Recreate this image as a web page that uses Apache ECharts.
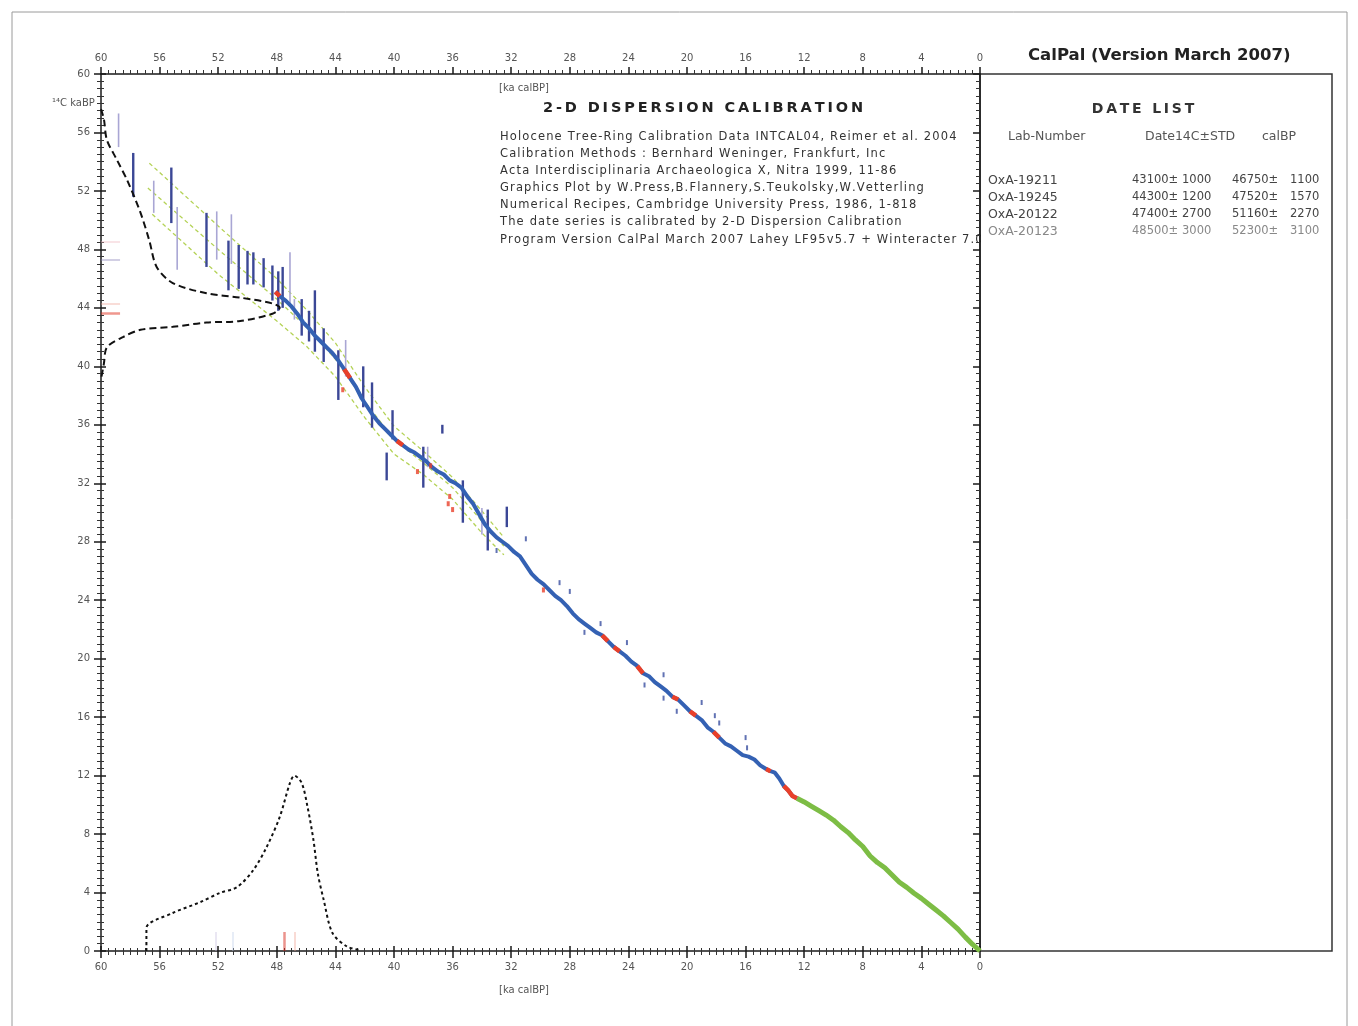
<!DOCTYPE html>
<html>
<head>
<meta charset="utf-8">
<title>CalPal 2-D Dispersion Calibration</title>
<script src="https://cdn.jsdelivr.net/npm/echarts@6/dist/echarts.min.js"></script>
<style>
  html, body { margin: 0; padding: 0; background: #fff; }
  #chart { width: 1358px; height: 1026px; }
</style>
</head>
<body>
<div id="chart"></div>
<script>
// calibration curve, [ka calBP, 14C ka BP]
const holoceneCurve = [
  [0, 0], [0.5, 0.45], [1, 0.95], [1.5, 1.5], [2, 1.95], [2.5, 2.4], [3, 2.8], [3.5, 3.2],
  [4, 3.6], [4.5, 3.95], [5, 4.35], [5.5, 4.7], [6, 5.2], [6.5, 5.7], [7, 6.05], [7.5, 6.5],
  [8, 7.15], [8.5, 7.6], [9, 8.1], [9.5, 8.5], [10, 8.95], [10.5, 9.3], [11, 9.6], [11.5, 9.9],
  [12, 10.2], [12.5, 10.45]
]
const glacialCurve = [
  [12.5, 10.45], [12.8, 10.6], [13.1, 11.0], [13.4, 11.3], [13.7, 11.8], [14.0, 12.2], [14.3, 12.3],
  [14.6, 12.45], [15.0, 12.7], [15.4, 13.1], [15.8, 13.3], [16.2, 13.4], [16.6, 13.7], [17.0, 14.0],
  [17.4, 14.2], [17.8, 14.6], [18.2, 15.0], [18.6, 15.3], [19.0, 15.8], [19.4, 16.1], [19.8, 16.4],
  [20.2, 16.8], [20.6, 17.2], [21.0, 17.4], [21.4, 17.8], [21.8, 18.1], [22.2, 18.4], [22.6, 18.8],
  [23.0, 19.0], [23.4, 19.5], [23.8, 19.8], [24.2, 20.2], [24.6, 20.5], [25.0, 20.8], [25.4, 21.2],
  [25.8, 21.6], [26.2, 21.8], [26.6, 22.1], [27.0, 22.4], [27.4, 22.7], [27.8, 23.1], [28.2, 23.6],
  [28.6, 24.0], [29.0, 24.3], [29.4, 24.7], [29.8, 25.1], [30.2, 25.4], [30.6, 25.8], [31.0, 26.4],
  [31.4, 27.0], [31.8, 27.3], [32.2, 27.7], [32.6, 28.0], [33.0, 28.3], [33.4, 28.7], [33.8, 29.2],
  [34.2, 29.9], [34.6, 30.6], [35.0, 31.1], [35.4, 31.7], [35.8, 32.0], [36.2, 32.2], [36.6, 32.6],
  [37.0, 32.8], [37.4, 33.1], [37.8, 33.5], [38.2, 33.8], [38.6, 34.1], [39.0, 34.3], [39.4, 34.6],
  [39.8, 34.9], [40.2, 35.3], [40.6, 35.7], [41.0, 36.1], [41.4, 36.6], [41.8, 37.2], [42.2, 37.8],
  [42.6, 38.6], [43.0, 39.2], [43.4, 39.8], [43.8, 40.4], [44.2, 40.9], [44.6, 41.3], [45.0, 41.7],
  [45.4, 42.1], [45.8, 42.6], [46.2, 43.0], [46.6, 43.6], [47.0, 44.1], [47.4, 44.5], [47.8, 44.8],
  [48.1, 45.1]
]
// cal ranges where the curve is drawn red
const redRanges = [
  [12.5, 13.5], [14.2, 14.7], [17.7, 18.3], [19.3, 19.9], [20.5, 21.1], [22.9, 23.5], [24.4, 25.0],
  [25.3, 25.9], [29.9, 30.4], [35.9, 36.3], [39.3, 39.9], [43.0, 43.5], [47.7, 48.1]
]
// single measurements [cal, 14C-lo, 14C-hi]
const darkBars = [
  [57.8, 51.6, 54.6], [55.2, 49.8, 53.6], [52.8, 46.8, 50.5], [51.3, 45.2, 48.6], [50.6, 45.3, 48.3],
  [50.0, 45.6, 47.9], [49.6, 45.6, 47.8], [48.9, 45.4, 47.4], [48.3, 44.5, 46.9], [47.9, 43.8, 46.5],
  [47.6, 44.0, 46.8], [45.4, 41.0, 45.2], [45.8, 41.7, 43.8], [43.8, 37.7, 41.1], [42.1, 37.2, 40.0],
  [41.5, 35.8, 38.9], [40.1, 35.0, 37.0], [40.5, 32.2, 34.1], [38.0, 31.7, 34.5], [35.3, 29.3, 32.2],
  [33.6, 27.4, 30.2], [32.3, 29.0, 30.4], [36.7, 35.4, 36.0], [44.8, 40.3, 42.6], [46.3, 42.1, 44.6]
]
const lightBars = [
  [58.8, 55.0, 57.3], [56.4, 50.5, 52.7], [54.8, 46.6, 50.9], [52.1, 47.3, 50.6], [51.1, 47.0, 50.4],
  [47.1, 44.3, 47.8], [46.8, 43.2, 44.6], [43.3, 39.3, 41.8], [37.7, 33.1, 34.5], [34.0, 28.5, 30.3]
]
const blueDots = [
  [28.7, 25.2], [28.0, 24.6], [25.9, 22.4], [24.1, 21.1], [21.6, 18.9], [21.6, 17.3], [20.7, 16.4],
  [19.0, 17.0], [18.1, 16.1], [17.8, 15.6], [16.0, 14.6], [15.9, 13.9], [33.0, 27.4], [31.0, 28.2],
  [27.0, 21.8], [22.9, 18.2]
]
const redDots = [
  [36.2, 31.1], [36.3, 30.6], [36.0, 30.2], [38.4, 32.8], [43.5, 38.4], [37.5, 33.2], [29.8, 24.7]
]
// dispersion band
const bandUpper = [
  [56.7, 53.9], [52, 49.6], [48, 46.0], [46, 43.9], [44, 41.6], [42, 38.6], [40, 35.9], [38, 34.2],
  [36, 32.4], [34, 30.1], [32.5, 28.3]
]
const bandMiddle = [
  [56.8, 52.2], [52, 48.0], [48, 44.6], [46, 42.7], [44, 40.5], [42, 37.6], [40, 35.0], [38, 33.4],
  [36, 31.7], [34, 29.4], [32.5, 27.7]
]
const bandLower = [
  [56.5, 50.4], [52, 46.3], [48, 43.1], [46, 41.4], [44, 39.3], [42, 36.5], [40, 34.0], [38, 32.6],
  [36, 30.9], [34, 28.6], [32.5, 27.1]
]
// 14C probability (along y) and cal probability (along x)
const c14Prob = [
  [60, 57.6], [59.8, 56.9], [59.6, 55.5], [58.9, 54.1], [58.2, 52.7], [57.3, 50.5], [56.7, 48.6],
  [56.2, 46.8], [55.1, 45.7], [52.8, 45.0], [50.5, 44.7], [48.3, 44.3], [47.8, 44.0], [48.3, 43.6],
  [50.5, 43.1], [52.8, 43.0], [55.1, 42.7], [57.3, 42.5], [58.5, 42.0], [59.6, 41.3], [59.8, 40.2],
  [60, 39.1]
]
const calProb = [
  [56.9, 0], [56.9, 1.57], [55.1, 2.6], [53.2, 3.35], [51.9, 3.97], [50.7, 4.38], [49.6, 5.54],
  [48.7, 7.1], [47.8, 9.17], [47.1, 11.5], [46.8, 12.0], [46.3, 11.5], [45.9, 9.85], [45.5, 7.6],
  [45.2, 5.3], [44.8, 3.5], [44.2, 1.23], [43.2, 0.3], [42.3, 0.07]
]
const dateMarks14C = [48.5, 47.3, 44.3, 43.65]
const dateMarksCal = [52.2, 51.0, 47.5, 46.8]
const markColors = ['#f0b8c0', '#8a7fb8', '#f2a59a', '#e0301e']
const calMarkColors = ['#c8c0e0', '#c0d0ec', '#d8281c', '#f0a090']

const labNumbers = ['OxA-19211', 'OxA-19245', 'OxA-20122', 'OxA-20123']
const dates14C = ['43100±', '44300±', '47400±', '48500±']
const std14C = ['1000', '1200', '2700', '3000']
const datesCal = ['46750±', '47520±', '51160±', '52300±']
const stdCal = ['1100', '1570', '2270', '3100']

const infoLines = [
  'Holocene Tree-Ring Calibration Data INTCAL04, Reimer et al. 2004',
  'Calibration Methods : Bernhard Weninger, Frankfurt, Inc',
  'Acta Interdisciplinaria Archaeologica X, Nitra 1999, 11-86',
  'Graphics Plot by W.Press,B.Flannery,S.Teukolsky,W.Vetterling',
  'Numerical Recipes, Cambridge University Press, 1986, 1-818',
  'The date series is calibrated by 2-D Dispersion Calibration',
  'Program Version CalPal March 2007 Lahey LF95v5.7 + Winteracter 7.0'
]

const myChart = echarts.init(document.getElementById('chart'))

const spaced = (s, sep) => s.split('').join(sep || '\u2009')
const axisColor = '#1a1a1a'
function axis(extra) {
  return Object.assign({
    type: 'value',
    min: 0,
    max: 60,
    interval: 4,
    splitLine: { show: false },
    axisLine: { show: true, onZero: false, lineStyle: { color: axisColor, width: 1.5 } },
    axisTick: { show: true, length: 7, lineStyle: { color: axisColor, width: 1.5 } },
    minorTick: { show: true, splitNumber: 8, length: 4, lineStyle: { color: '#333', width: 1 } },
    axisLabel: { show: true, color: '#555', fontSize: 10, fontFamily: 'DejaVu Sans', margin: 11 }
  }, extra)
}

function segmentsIn(curve, ranges) {
  return ranges.map(r => ({ coords: curve.filter(p => p[0] >= r[0] && p[0] <= r[1]) }))
    .filter(d => d.coords.length > 1)
}

function barSeries(data, color, width) {
  return {
    type: 'custom',
    data: data,
    z: 4,
    encode: { x: 0, y: [1, 2] },
    renderItem: function(params, api) {
      const a = api.coord([api.value(0), api.value(1)])
      const b = api.coord([api.value(0), api.value(2)])
      return {
        type: 'line',
        shape: { x1: a[0], y1: a[1], x2: b[0], y2: b[1] },
        style: { stroke: color, lineWidth: width }
      }
    }
  }
}

function bandSeries(data) {
  return {
    type: 'line', data: data, symbol: 'none', z: 3,
    lineStyle: { color: '#b4d256', width: 1.3, type: [4, 3] }
  }
}

const textFont = 'DejaVu Sans'
const graphics = [
  { type: 'rect', shape: { x: 12, y: 12, width: 1335, height: 1030 }, style: { fill: 'none', stroke: '#9a9a9a', lineWidth: 1 } },
  { type: 'text', x: 1028, y: 47, style: { text: 'CalPal (Version March 2007)', font: 'bold 16.5px ' + textFont, fill: '#222' } },
  { type: 'text', x: 1143, y: 102, style: { text: spaced('DATE LIST'), font: 'bold 14px ' + textFont, fill: '#333', align: 'center' } },
  { type: 'text', x: 1008, y: 130, style: { text: 'Lab-Number', font: '12.5px ' + textFont, fill: '#555' } },
  { type: 'text', x: 1145, y: 130, style: { text: 'Date14C±STD', font: '12.5px ' + textFont, fill: '#555' } },
  { type: 'text', x: 1262, y: 130, style: { text: 'calBP', font: '12.5px ' + textFont, fill: '#555' } },
  { type: 'text', x: 499, y: 83, style: { text: '[ka calBP]', font: '10px ' + textFont, fill: '#555' } },
  { type: 'text', x: 499, y: 985, style: { text: '[ka calBP]', font: '10px ' + textFont, fill: '#555' } },
  { type: 'text', x: 52, y: 98, style: { text: '¹⁴C kaBP', font: '10px ' + textFont, fill: '#555' } },
  { type: 'text', x: 703, y: 101, style: { text: spaced('2-D DISPERSION CALIBRATION'), font: 'bold 14.5px ' + textFont, fill: '#222', align: 'center' } }
]
infoLines.forEach((line, i) => {
  graphics.push({ type: 'text', x: 500, y: 131 + i * 17.1, style: {
    text: spaced(line, '\u200A'), font: '11.5px ' + textFont, fill: '#333'
  } })
})
// the last info line runs into the date list panel and is cut at the axis there
graphics.push({ type: 'rect', shape: { x: 981, y: 226, width: 40, height: 24 }, style: { fill: '#fff' } })
graphics.push({ type: 'rect', shape: { x: 980, y: 74, width: 352, height: 877 }, style: { fill: 'none', stroke: '#333', lineWidth: 1.5 } })
labNumbers.forEach((lab, i) => {
  const y = 174 + i * 17
  const st = { font: '11.5px ' + textFont, fill: i === 3 ? '#888' : '#444' }
  graphics.push({ type: 'text', x: 988, y: y, style: Object.assign({}, st, { text: lab, font: '12.5px ' + textFont }) })
  graphics.push({ type: 'text', x: 1132, y: y, style: Object.assign({ text: dates14C[i] }, st) })
  graphics.push({ type: 'text', x: 1182, y: y, style: Object.assign({ text: std14C[i] }, st) })
  graphics.push({ type: 'text', x: 1232, y: y, style: Object.assign({ text: datesCal[i] }, st) })
  graphics.push({ type: 'text', x: 1290, y: y, style: Object.assign({ text: stdCal[i] }, st) })
})

const option = {
  animation: false,
  backgroundColor: '#fff',
  grid: { left: 101, top: 74, width: 879, height: 877, containLabel: false, outerBoundsMode: 'none' },
  xAxis: [
    axis({ position: 'bottom', inverse: true }),
    axis({ position: 'bottom', inverse: true, axisLabel: { show: false }, axisLine: { show: false, onZero: false },
      axisTick: { show: true, inside: true, length: 5, lineStyle: { color: axisColor, width: 1.5 } },
      minorTick: { show: true, splitNumber: 8, length: 3, lineStyle: { color: '#333' } } }),
    axis({ position: 'top', inverse: true })
  ],
  yAxis: [
    axis({ position: 'left' }),
    axis({ position: 'left', axisLabel: { show: false }, axisLine: { show: false, onZero: false },
      axisTick: { show: true, inside: true, length: 5, lineStyle: { color: axisColor, width: 1.5 } },
      minorTick: { show: true, splitNumber: 8, length: 3, lineStyle: { color: '#333' } } }),
    axis({ position: 'right', axisLabel: { show: false },
      axisTick: { show: true, inside: true, length: 7, lineStyle: { color: axisColor, width: 1.5 } } })
  ],
  graphic: graphics,
  series: [
    bandSeries(bandUpper),
    bandSeries(bandMiddle),
    bandSeries(bandLower),
    {
      type: 'line', data: holoceneCurve, symbol: 'none', z: 5,
      lineStyle: { color: '#7dbd45', width: 5 }
    },
    {
      type: 'line', data: glacialCurve, symbol: 'none', z: 5,
      lineStyle: { color: '#3461b3', width: 4 }
    },
    {
      type: 'lines', coordinateSystem: 'cartesian2d', polyline: true, z: 6,
      data: segmentsIn(glacialCurve, redRanges),
      lineStyle: { color: '#e8402a', width: 4.5, opacity: 1 }
    },
    barSeries(lightBars, '#a9a6d4', 1.6),
    barSeries(darkBars, '#3b4796', 2.4),
    {
      type: 'scatter', data: blueDots, symbol: 'rect', symbolSize: [2, 5], z: 5,
      itemStyle: { color: '#3a4fa0' }
    },
    {
      type: 'scatter', data: redDots, symbol: 'rect', symbolSize: [3, 5], z: 5,
      itemStyle: { color: '#e8402a' }
    },
    {
      type: 'line', data: c14Prob, symbol: 'none', smooth: 0.3, z: 7,
      lineStyle: { color: '#111', width: 2, type: [7, 4] }
    },
    {
      type: 'line', data: calProb, symbol: 'none', smooth: 0.3, z: 7,
      lineStyle: { color: '#111', width: 2, type: [3, 3] }
    },
    {
      type: 'lines', coordinateSystem: 'cartesian2d', z: 7,
      data: dateMarks14C.map((y, i) => ({ coords: [[60, y], [58.7, y]], lineStyle: { color: markColors[i], width: i === 3 ? 2.5 : 1.5 } }))
    },
    {
      type: 'lines', coordinateSystem: 'cartesian2d', z: 7,
      data: dateMarksCal.map((x, i) => ({ coords: [[x, 0], [x, 1.3]], lineStyle: { color: calMarkColors[i], width: i === 2 ? 2.5 : 1.5 } }))
    }
  ]
}
myChart.setOption(option)
window.addEventListener('resize', function() {
  myChart.resize()
})
</script>
</body>
</html>
